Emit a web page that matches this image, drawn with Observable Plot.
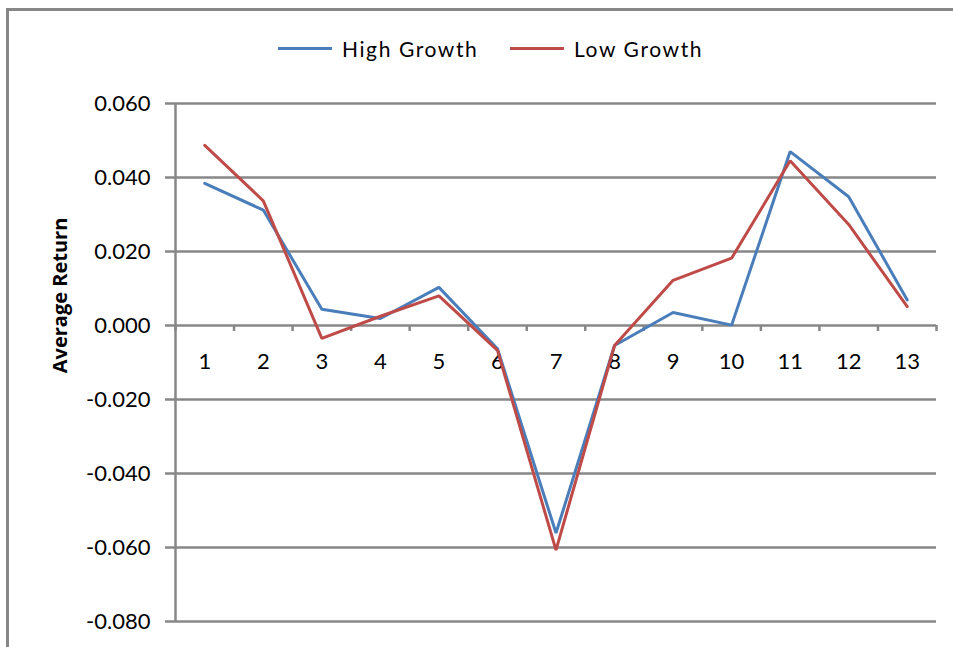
<!DOCTYPE html>
<html>
<head>
<meta charset="utf-8">
<script src="https://cdn.jsdelivr.net/npm/d3@7"></script>
<script src="https://cdn.jsdelivr.net/npm/@observablehq/plot@0.6"></script>
<style>
  html, body { margin: 0; padding: 0; background: #fff; }
  #wrap { position: relative; width: 953px; height: 647px; overflow: hidden; }
  #frame { position: absolute; left: 6px; top: 8px; width: 1000px; height: 1000px;
           border-left: 3px solid #878787; border-top: 3px solid #878787; }
  #legend { position: absolute; top: 33px; left: 0; width: 953px; height: 30px;
            font-family: Lato, "Open Sans", sans-serif; font-size: 21px; letter-spacing: 1.6px; color: #000; }
  .item { position: absolute; top: 0; display: flex; align-items: center; height: 30px; }
  .swatch { display: inline-block; width: 54px; height: 3px; margin-right: 10px; }
  #chart { position: absolute; left: 0; top: 0; }
</style>
</head>
<body>
<div id="wrap">
  <div id="frame"></div>
  <div id="chart"></div>
  <div id="legend"></div>
</div>
<script>
const categories = [1, 2, 3, 4, 5, 6, 7, 8, 9, 10, 11, 12, 13];
const highGrowth = [0.0384, 0.0312, 0.0044, 0.0019, 0.0103, -0.0063, -0.0561, -0.0054, 0.0035, 0.0001, 0.0470, 0.0348, 0.0069];
const lowGrowth  = [0.0487, 0.0337, -0.0035, 0.0025, 0.0080, -0.0067, -0.0607, -0.0054, 0.0122, 0.0182, 0.0445, 0.0273, 0.0051];
const seriesNames = ["High Growth", "Low Growth"];
const seriesColors = ["#4A7EBB", "#BE4B48"];
const yTicks = [-0.08, -0.06, -0.04, -0.02, 0, 0.02, 0.04, 0.06];
const yLabel = "Average Return";

const data = [];
categories.forEach((c, i) => {
  data.push({cat: c, value: highGrowth[i], series: seriesNames[0]});
  data.push({cat: c, value: lowGrowth[i], series: seriesNames[1]});
});
const boundaries = categories.map(c => c - 0.5).concat([categories[categories.length - 1] + 0.5]);
const grid = "#878787";
const font = "Lato, 'Open Sans', sans-serif";

const chart = Plot.plot({
  width: 953,
  height: 647,
  marginLeft: 175,
  marginRight: 17,
  marginTop: 103,
  marginBottom: 26,
  style: {fontFamily: font, fontSize: "22px", background: "transparent", overflow: "visible"},
  x: {type: "linear", domain: [0.5, 13.5], axis: null},
  y: {domain: [-0.08, 0.06], axis: null},
  color: {domain: seriesNames, range: seriesColors},
  marks: [
    Plot.ruleY(yTicks, {stroke: grid, strokeWidth: 2.5}),
    Plot.ruleY(yTicks, {x1: 0.5, x2: 0.5, insetLeft: -10, stroke: grid, strokeWidth: 2.5}),
    Plot.ruleX([0.5], {stroke: grid, strokeWidth: 2.5}),
    Plot.ruleX(boundaries, {y1: 0, y2: 0, insetBottom: -6, stroke: grid, strokeWidth: 2.5}),
    Plot.text(yTicks, {x: 0.5, y: d => d, text: d => d.toFixed(3), textAnchor: "end", dx: -25,
      fill: "#000", fontSize: 22, style: "letter-spacing:1.6px"}),
    Plot.text(categories, {x: d => d, y: 0, text: d => String(d), dy: 36, fill: "#000", fontSize: 22,
      style: "letter-spacing:1px"}),
    Plot.line(data, {x: "cat", y: "value", z: "series", stroke: "series", strokeWidth: 3,
      strokeLinejoin: "miter", curve: "linear"}),
    Plot.text([yLabel], {frameAnchor: "left", textAnchor: "middle", dx: -115, dy: -67, rotate: -90, text: d => d,
      fontWeight: "bold", fontSize: 20, fill: "#000", fontFamily: "'Open Sans', Lato, sans-serif",
      style: "letter-spacing:1.3px"})
  ]
});
document.getElementById("chart").appendChild(chart);

const legend = document.getElementById("legend");
const positions = [278, 510];
seriesNames.forEach((name, i) => {
  const item = document.createElement("div");
  item.className = "item";
  item.style.left = positions[i] + "px";
  const sw = document.createElement("span");
  sw.className = "swatch";
  sw.style.background = seriesColors[i];
  item.appendChild(sw);
  item.appendChild(document.createTextNode(name));
  legend.appendChild(item);
});
</script>
</body>
</html>
